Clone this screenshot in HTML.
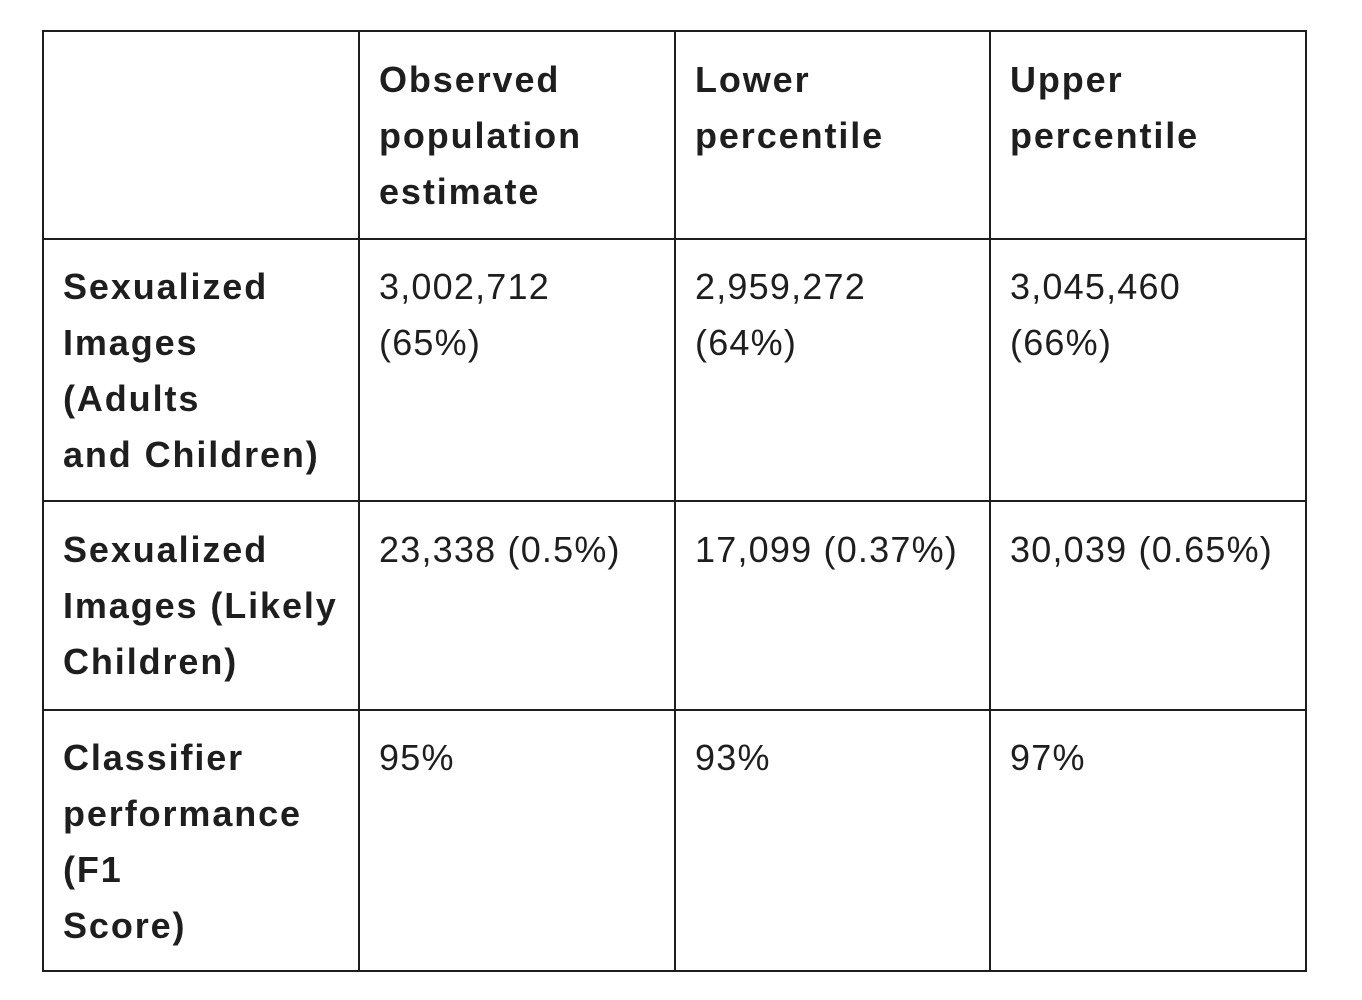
<!DOCTYPE html>
<html><head><meta charset="utf-8"><style>
body{margin:0;width:1362px;height:1000px;background:#fff;position:relative;font-family:"Liberation Sans",sans-serif;color:#1e1e1e;}
.l{position:absolute;background:#1e1e1e;}
.t{position:absolute;font-size:36px;line-height:56px;white-space:nowrap;letter-spacing:1.2px;}
.b{font-weight:bold;letter-spacing:1.9px;}
</style></head><body>
<div class="l" style="left:42px;top:30px;width:1265px;height:2px"></div>
<div class="l" style="left:42px;top:238px;width:1265px;height:2px"></div>
<div class="l" style="left:42px;top:500px;width:1265px;height:2px"></div>
<div class="l" style="left:42px;top:709px;width:1265px;height:2px"></div>
<div class="l" style="left:42px;top:970px;width:1265px;height:2px"></div>
<div class="l" style="left:42px;top:30px;width:2px;height:942px"></div>
<div class="l" style="left:358px;top:30px;width:2px;height:942px"></div>
<div class="l" style="left:674px;top:30px;width:2px;height:942px"></div>
<div class="l" style="left:989px;top:30px;width:2px;height:942px"></div>
<div class="l" style="left:1305px;top:30px;width:2px;height:942px"></div>

<div class="t b" style="left:379px;top:52px">Observed<br>population<br>estimate</div>
<div class="t b" style="left:695px;top:52px">Lower<br>percentile</div>
<div class="t b" style="left:1010px;top:52px">Upper<br>percentile</div>

<div class="t b" style="left:63px;top:259px">Sexualized<br>Images<br>(Adults<br>and Children)</div>
<div class="t" style="left:379px;top:259px">3,002,712<br>(65%)</div>
<div class="t" style="left:695px;top:259px">2,959,272<br>(64%)</div>
<div class="t" style="left:1010px;top:259px">3,045,460<br>(66%)</div>

<div class="t b" style="left:63px;top:522px">Sexualized<br>Images (Likely<br>Children)</div>
<div class="t" style="left:379px;top:522px">23,338 (0.5%)</div>
<div class="t" style="left:695px;top:522px">17,099 (0.37%)</div>
<div class="t" style="left:1010px;top:522px">30,039 (0.65%)</div>

<div class="t b" style="left:63px;top:730px">Classifier<br>performance<br>(F1<br>Score)</div>
<div class="t" style="left:379px;top:730px">95%</div>
<div class="t" style="left:695px;top:730px">93%</div>
<div class="t" style="left:1010px;top:730px">97%</div>
</body></html>
